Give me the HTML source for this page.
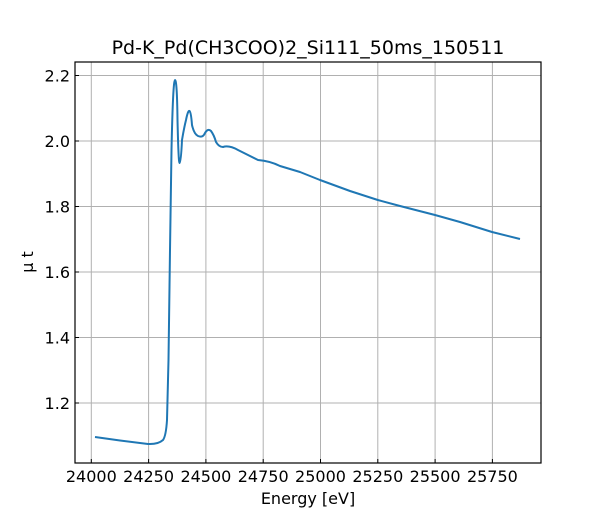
<!DOCTYPE html>
<html><head><style>body{margin:0;background:#fff}svg text{font-family:"DejaVu Sans","Liberation Sans",sans-serif;fill:#000}</style></head><body>
<svg width="600" height="520" viewBox="0 0 600 520" xmlns="http://www.w3.org/2000/svg">
<g stroke="#b0b0b0" stroke-width="1">
<line x1="91.3" y1="62" x2="91.3" y2="463"/><line x1="148.6" y1="62" x2="148.6" y2="463"/><line x1="205.9" y1="62" x2="205.9" y2="463"/><line x1="263.2" y1="62" x2="263.2" y2="463"/><line x1="320.5" y1="62" x2="320.5" y2="463"/><line x1="377.8" y1="62" x2="377.8" y2="463"/><line x1="435.1" y1="62" x2="435.1" y2="463"/><line x1="492.4" y1="62" x2="492.4" y2="463"/>
<line x1="75" y1="403" x2="541" y2="403"/><line x1="75" y1="337.5" x2="541" y2="337.5"/><line x1="75" y1="272" x2="541" y2="272"/><line x1="75" y1="206.5" x2="541" y2="206.5"/><line x1="75" y1="141" x2="541" y2="141"/><line x1="75" y1="75.5" x2="541" y2="75.5"/>
</g>
<g stroke="#000" stroke-width="1">
<line x1="91.3" y1="463" x2="91.3" y2="459"/><line x1="148.6" y1="463" x2="148.6" y2="459"/><line x1="205.9" y1="463" x2="205.9" y2="459"/><line x1="263.2" y1="463" x2="263.2" y2="459"/><line x1="320.5" y1="463" x2="320.5" y2="459"/><line x1="377.8" y1="463" x2="377.8" y2="459"/><line x1="435.1" y1="463" x2="435.1" y2="459"/><line x1="492.4" y1="463" x2="492.4" y2="459"/>
<line x1="75" y1="403" x2="79" y2="403"/><line x1="75" y1="337.5" x2="79" y2="337.5"/><line x1="75" y1="272" x2="79" y2="272"/><line x1="75" y1="206.5" x2="79" y2="206.5"/><line x1="75" y1="141" x2="79" y2="141"/><line x1="75" y1="75.5" x2="79" y2="75.5"/>
</g>
<path fill="none" stroke="#1f77b4" stroke-width="2" stroke-linejoin="round" d="M95,437 L120,440.5 L148,444 Q158,444.5 163,440 Q166,436 167,420 L168.5,360 L170,250 L171.5,150 Q173,80 175,80 Q177,80 177.5,120 Q178.5,163 179.5,163 Q181,162 182,140 Q184,128 186,120 Q188,110 189.5,111 Q191,112 192,125 Q194,134 198,136 Q203,138 205,133 Q208,128 211,131 Q214,135 216,142 Q219,147 223,147 Q229,145 238,150 L258,160 Q270,161 280,166 L300,172 L320,180 L350,191 L377.8,200 L400,206 L435,215 L460,222 L492,232 L520,239"/>
<rect x="75" y="62" width="466" height="401" fill="none" stroke="#000" stroke-width="1.2"/>
<g font-size="16" text-anchor="middle">
<text x="91.3" y="482">24000</text><text x="148.6" y="482">24250</text><text x="205.9" y="482">24500</text><text x="263.2" y="482">24750</text><text x="320.5" y="482">25000</text><text x="377.8" y="482">25250</text><text x="435.1" y="482">25500</text><text x="492.4" y="482">25750</text>
</g>
<g font-size="16" text-anchor="end">
<text x="70" y="409">1.2</text><text x="70" y="343.5">1.4</text><text x="70" y="278">1.6</text><text x="70" y="212.5">1.8</text><text x="70" y="147">2.0</text><text x="70" y="81.5">2.2</text>
</g>
<text x="308" y="504" font-size="16" text-anchor="middle">Energy [eV]</text>
<text transform="translate(33,262) rotate(-90)" font-size="16" text-anchor="middle">μ t</text>
<text x="308" y="54" font-size="19" text-anchor="middle">Pd-K_Pd(CH3COO)2_Si111_50ms_150511</text>
</svg>
</body></html>
